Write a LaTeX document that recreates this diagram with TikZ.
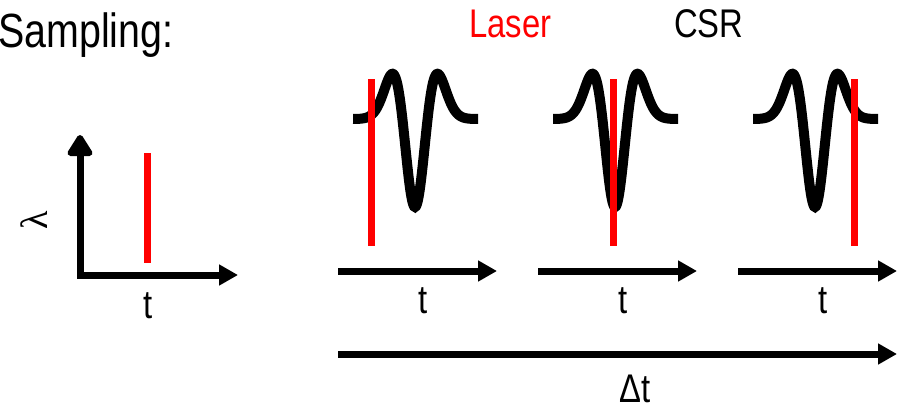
\documentclass[tikz,border=0pt]{standalone}
\usepackage{fontspec}
\setmainfont[FakeStretch=0.82]{Liberation Sans}
\newfontfamily\greekserif{Liberation Serif}
\usepackage{xcolor}
\usetikzlibrary{positioning, arrows.meta}

\begin{document}
\begin{tikzpicture}[
  x=1pt, y=-1pt,
  declare function={csr(\u)=88*(1-1.1*(\u/13.2)^2)*exp(-0.5*(\u/13.2)^2);},
  lbl/.style={inner sep=0pt, anchor=base, font=\fontsize{40}{48}\selectfont},
  axis/.style={line width=7pt, -{Triangle[length=19pt,width=20pt]}},
  wave/.style={line width=10pt, black},
  laser/.style={line width=7pt, red},
]
\useasboundingbox (0,0) rectangle (902,407);

% --- titles ---
\node[lbl, anchor=base west, font=\fontsize{48}{56}\selectfont] (title) at (-2,47) {Sampling:};
\node[lbl, anchor=base west, text=red] (laserlbl) at (469,37) {Laser};
\node[lbl, anchor=base west] (csrlbl) at (674,37) {CSR};

% --- left: lambda vs t ---
\coordinate (ytip) at (80,135);
\coordinate (xtip) at (238,275);
\draw[line width=7pt, {Triangle[length=24pt,width=28pt,round]}-{Triangle[length=19pt,width=20pt]}]
  (ytip) |- (xtip);
\coordinate (l0top) at (147.5,153);
\coordinate (l0bot) at (147.5,263);
\draw[laser] (l0top) -- (l0bot);
\node[lbl] (t0) at (148,318) {t};
\node[inner sep=0pt, rotate=90, font=\greekserif\fontsize{38}{44}\selectfont] (lam) at (34,220) {λ};

% --- panel 1 ---
\draw[wave, shift={(415,0)}] plot[domain=-62:63, samples=140, smooth] (\x, {119+csr(\x)});
\coordinate (l1top) at (371,79);
\coordinate (l1bot) at (371,246);
\draw[laser] (l1top) -- (l1bot);
\coordinate (a1s) at (338,271);
\coordinate (a1e) at (497,271);
\draw[axis] (a1s) -- (a1e);
\node[lbl] (t1) at (423,313) {t};

% --- panel 2 ---
\draw[wave, shift={(615,0)}] plot[domain=-62:63, samples=140, smooth] (\x, {119+csr(\x)});
\coordinate (l2top) at (613,79);
\coordinate (l2bot) at (613,246);
\draw[laser] (l2top) -- (l2bot);
\coordinate (a2s) at (538,271);
\coordinate (a2e) at (697,271);
\draw[axis] (a2s) -- (a2e);
\node[lbl] (t2) at (623,313) {t};

% --- panel 3 ---
\draw[wave, shift={(815,0)}] plot[domain=-62:63, samples=140, smooth] (\x, {119+csr(\x)});
\coordinate (l3top) at (854,79);
\coordinate (l3bot) at (854,246);
\draw[laser] (l3top) -- (l3bot);
\coordinate (a3s) at (738,271);
\coordinate (a3e) at (897,271);
\draw[axis] (a3s) -- (a3e);
\node[lbl] (t3) at (823,313) {t};

% --- overall delay ---
\coordinate (ds) at (338,354);
\coordinate (de) at (897,354);
\draw[axis] (ds) -- (de);
\node[lbl] (dt) at (635,402) {Δt};
\end{tikzpicture}
\end{document}
